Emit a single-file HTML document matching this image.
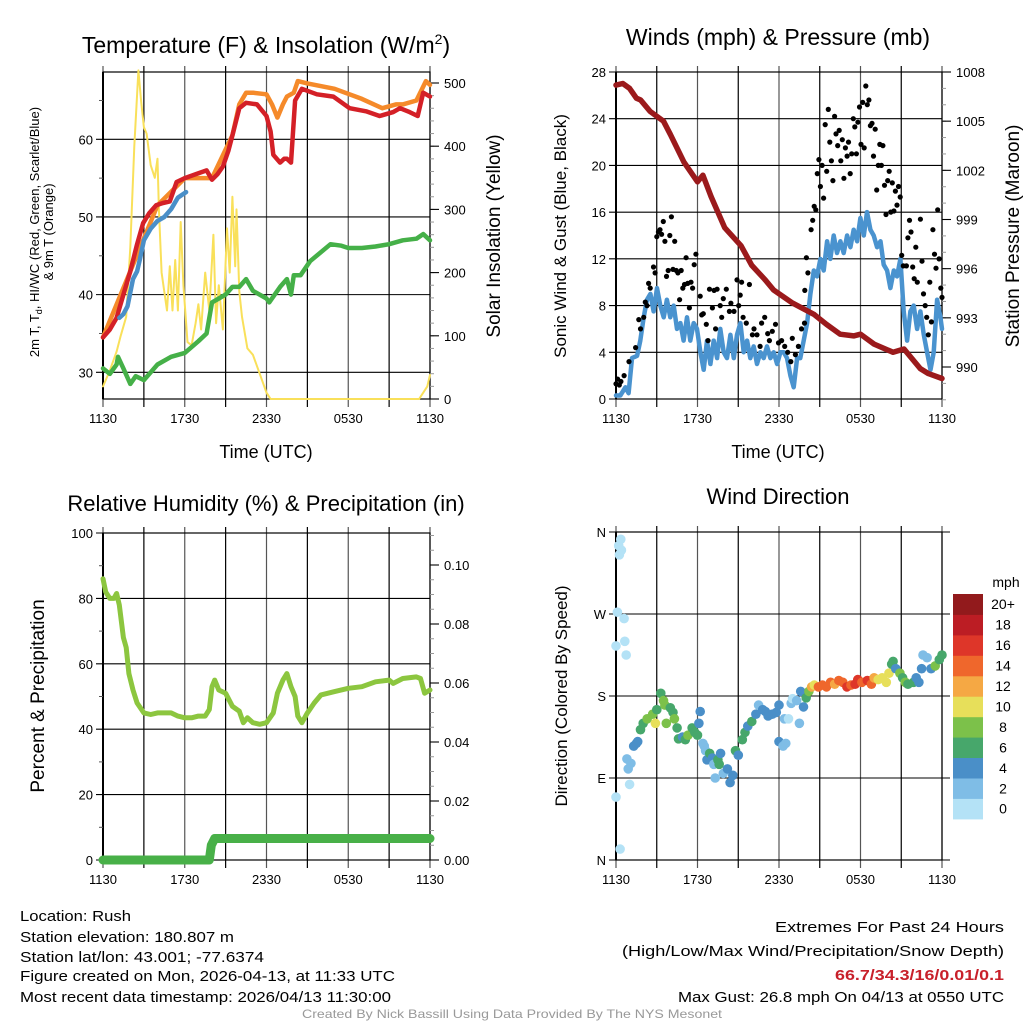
<!DOCTYPE html>
<html><head><meta charset="utf-8"><style>
html,body{margin:0;padding:0;background:#fff;}
svg{display:block;font-family:"Liberation Sans",sans-serif;}
</style></head><body>
<svg id="fig" width="1024" height="1024" viewBox="0 0 1024 1024" xmlns="http://www.w3.org/2000/svg">
<rect width="1024" height="1024" fill="#fff"/>
<g id="g1"></g>
<g id="g2"></g>
<g id="g3"></g>
<g id="g4"></g>
<g font-family="'Liberation Sans',sans-serif" font-size="15" fill="#000">
<text x="20" y="921" textLength="111" lengthAdjust="spacingAndGlyphs">Location: Rush</text>
<text x="20" y="942" textLength="214" lengthAdjust="spacingAndGlyphs">Station elevation: 180.807 m</text>
<text x="20" y="962" textLength="244" lengthAdjust="spacingAndGlyphs">Station lat/lon: 43.001; -77.6374</text>
<text x="20" y="981" textLength="375" lengthAdjust="spacingAndGlyphs">Figure created on Mon, 2026-04-13, at 11:33 UTC</text>
<text x="20" y="1002" textLength="371" lengthAdjust="spacingAndGlyphs">Most recent data timestamp: 2026/04/13 11:30:00</text>
<text x="1004" y="932" text-anchor="end" textLength="229" lengthAdjust="spacingAndGlyphs">Extremes For Past 24 Hours</text>
<text x="1004" y="956" text-anchor="end" textLength="382" lengthAdjust="spacingAndGlyphs">(High/Low/Max Wind/Precipitation/Snow Depth)</text>
<text x="1004" y="980" text-anchor="end" fill="#c8202a" font-weight="bold" textLength="169" lengthAdjust="spacingAndGlyphs">66.7/34.3/16/0.01/0.1</text>
<text x="1004" y="1002" text-anchor="end" textLength="326" lengthAdjust="spacingAndGlyphs">Max Gust: 26.8 mph On 04/13 at 0550 UTC</text>
<text x="512" y="1018" text-anchor="middle" font-size="12" fill="#999" textLength="420" lengthAdjust="spacingAndGlyphs">Created By Nick Bassill Using Data Provided By The NYS Mesonet</text>
</g>
</svg>
<script>
// ---------- data (hours since 1130 UTC) ----------
const timeLabels = ["1130","1730","2330","0530","1130"];
const tempT   = [0,0.5,1,1.5,2,2.5,2.94,3.4,3.9,4.4,4.9,5.4,6,6.8,7.6,8,8.4,8.8,9.2,9.5,10,10.5,11.3,12,12.3,12.5,13,13.3,13.5,13.8,14.1,14.6,15.7,16.9,18.1,19.3,20.3,21.3,21.8,22.5,23.1,23.5,24];
const tempRed = [34.5,35.5,37,40,43,46.5,49.2,50.5,51.5,51.8,52,54.5,55,55.5,56,54.8,55.5,56.5,58.5,60.5,64,64.7,64.5,63,61,58,57,57.5,57.5,57,65,66.5,65.8,65.5,64,63.6,63,63.5,64,63.5,63,66,65.5];
const orangeT = [0,2,4,6,8,9.5,10,10.5,11,12,12.4,12.8,13.2,13.5,14,14.3,15,17,19,20.5,21.5,22,23,23.7,24];
const tempOrange = [34.5,43,51.5,55,55,60.5,64.5,66,66,65.8,64.5,62.8,64.5,65.5,66,67.5,67.2,66.5,65.2,64,64.5,64.5,65,67.5,67];
const blueT = [1.2,1.5,1.8,2.2,2.5,2.7,3,3.5,4,4.5,5,5.5,6.1];
const tempBlue = [37,37.5,38.5,42,43,44.5,47,48.5,49.5,50,51,52.5,53.2];
const greenT = [0,0.5,1,1.1,1.5,2,2.4,3,3.5,4,5,6,7,7.6,8,8.5,9,9.5,10,10.5,11,12,12.2,13,13.5,13.8,14,14.5,15.2,16.7,17.5,18,19,20,21,22,23,23.5,24];
const tempGreen = [30.5,29.8,31,32,30.5,28.5,29.5,29,30,31,32,32.5,34,35,39,39.5,40,41,41,42,40.5,39.5,39,41,42,40,42.5,42.5,44.3,46.5,46.3,46,46,46.2,46.5,47,47.2,47.8,47];
const solarT = [0,0.5,1,1.3,1.7,2,2.3,2.6,2.8,3,3.2,3.5,3.8,4,4.1,4.3,4.5,4.7,4.9,5.1,5.3,5.5,5.7,5.9,6.2,6.5,6.8,7,7.2,7.5,7.8,8.1,8.3,8.5,8.8,9.1,9.3,9.5,9.7,9.8,10,10.2,10.6,11,11.5,12,12.3,23.2,23.5,23.8,24];
const solar = [20,45,75,100,130,240,400,520,470,430,420,370,350,380,300,200,170,140,210,140,220,140,280,180,90,85,120,150,110,200,140,260,120,180,110,270,200,320,210,300,170,130,80,70,40,10,0,0,10,20,38];
const windT = [0,0.32,0.69,0.93,1.18,1.55,1.79,
 2.04,2.28,2.53,2.77,3.02,3.26,3.51,3.75,4.0,4.25,4.49,4.74,4.98,5.23,5.47,5.72,5.96,6.21,6.46,6.7,6.95,7.19,7.44,7.68,7.93,8.17,8.42,8.67,8.91,9.16,9.4,9.65,9.89,10.14,10.38,10.63,10.87,11.12,11.37,11.61,11.86,12.1,12.35,12.59,12.84,13.08,13.33,13.57,13.82,14.07,14.31,14.56,14.8,15.05,15.29,15.54,15.78,16.03,16.27,16.52,16.76,17.01,17.26,17.5,17.75,17.99,18.24,18.48,18.73,18.97,19.22,19.47,19.71,19.96,20.2,20.45,20.69,20.94,21.18,21.43,21.67,21.92,22.17,22.41,22.66,22.9,23.15,23.39,23.64,23.88,24];
const windSpd = [0.3,0.3,1,0.5,3.5,3.7,5,
 7,8.5,9,7.5,9.5,8,7,8.5,7,8,6,6.5,5,7,5,6.5,6,4,2.5,5,3,5,3.5,6,4,3.5,5.5,3.5,5.5,6.5,4,5,3.5,4.5,3,4,3.5,4.5,3.5,4,3,4,4,3.5,2,1,3.5,3.5,5,6.5,9,11,10.5,12,11,13.5,12,14,12.5,13.5,12.5,14,13,14.5,13.5,15.5,14,16,14.5,14,13,13.5,11.5,11,9.5,11,10.5,12,7.5,5,7.5,8,6,7.5,5.5,4,2.5,4,8.5,7,6];
const gustT = [0,0.12,0.24,0.36,0.6,0.96,1.44,1.68,1.8,2.04,2.16,2.28,2.4,2.52,2.76,2.88,3,3.12,3.24,3.36,3.48,3.6,3.72,3.84,3.96,4.08,4.2,4.32,4.44,4.56,4.68,4.8,4.92,5.04,5.16,5.28,5.4,5.52,5.64,5.76,5.88,
 6.2,6.31,6.43,6.65,6.77,6.88,7.1,7.22,7.33,7.44,7.67,7.78,7.9,8.12,8.35,8.46,8.69,8.91,9.03,9.14,9.25,9.36,9.59,9.82,10.04,10.16,10.38,10.61,10.72,10.95,11.17,11.29,11.51,11.74,11.96,12.19,12.42,12.64,12.87,12.98,13.21,13.43,13.66,13.88,
 13.9,14.02,14.13,14.36,14.48,14.59,14.71,14.82,14.94,15.05,15.17,15.28,15.4,15.51,15.63,15.74,15.86,15.97,16.09,16.2,16.32,16.43,16.55,16.66,16.78,16.89,17.01,17.12,17.24,17.35,17.47,17.58,17.7,17.81,17.93,18.04,18.16,18.27,18.39,18.5,18.62,18.73,18.85,18.96,19.08,19.19,19.31,19.42,19.54,19.65,19.77,19.88,20,20.11,20.23,20.34,20.46,20.57,20.69,20.8,20.92,21.03,21.15,21.38,21.49,21.61,21.72,21.84,21.95,22.07,22.18,22.41,22.53,22.64,22.76,22.87,22.99,23.1,23.22,23.33,23.45,23.56,23.68,23.79,23.91,24];
const gustSpd = [1.3,1.7,1.2,1.5,2,3.2,4.4,6.8,6,7,8.3,8,9.9,9.5,11.3,10.8,13.9,14.3,14.5,14.1,15.2,13.5,10.5,11,14,15.6,11.1,13.5,11,10.8,8.5,11,9.5,9.8,12.1,9.9,7.8,10,9.5,11.5,12.4,
 8.8,7.2,7.3,6.4,5,9.4,7.8,9.3,6,9.4,8,7,8.6,9.4,7.5,8.2,7.5,10.2,8,8.9,10,7,6.5,9.8,5.5,6,5.5,4.5,6.5,7,5.6,5,5.8,6.4,4.8,5,4.5,4,3.2,5.2,3.8,4.5,6,6.5,
 9.3,12.1,10.8,14.5,15.3,16.5,16.2,19.3,20.5,18.2,20,17.2,23.5,19.5,24.8,22,20.4,18.7,24.2,22.7,21.7,23,20.4,22.2,18.9,21.5,20.8,22,19.3,21,24,23.3,21,23.7,25,21.8,25.4,21.5,26.8,25.2,25.6,23.4,23.6,20.8,23.1,17.9,20,21.8,20,21.7,18.3,15.8,18.7,19.5,16,18.5,16.1,17.8,16.6,18.2,17.3,12.3,11.4,11.4,13.8,15.3,14.3,11.3,10.3,13,10,15.4,11.8,9,8,7,5.5,10,6.6,14.5,12.4,11.2,16.2,12,9.5,8.7];
const presT = [0,0.5,1,1.5,1.8,2.5,3.5,4,5,6,6.4,7,8,9.2,10,11,11.6,13,14.6,15.5,16.5,17.5,18,19,20.4,21.2,22.4,23,24];
const pressure = [1007.2,1007.3,1007,1006.4,1006.3,1005.6,1005,1004.2,1002.5,1001.3,1001.7,1000.4,998.5,997.4,996.2,995.3,994.7,993.9,993.2,992.6,992,991.9,992,991.4,990.9,991.1,989.9,989.6,989.3];
const rhT = [0,0.2,0.5,0.8,1,1.2,1.5,1.7,1.9,2.2,2.5,3,3.5,4,4.5,5,5.5,6,6.5,7,7.5,7.8,8,8.2,8.5,9,9.5,10,10.3,10.6,11,11.5,12,12.5,12.8,13.2,13.5,13.8,14.1,14.3,14.6,15,15.5,16,17,18,19,20,21,21.3,22,23,23.3,23.6,24];
const rh = [86,82,80,80,81.5,78,68,65,57,52,48,45,44.5,45,45,45,44,43.5,43.5,44,44,46,53,55,52,51,47,45.5,42,43.5,42,41.5,42,45,51,55,57,53,50,44,42,45,48,50.5,51.5,52.5,53,54.5,55,54,55.5,56,55.5,51,52];
const precipT = [0,7.8,7.95,8.2,24];
const precip = [0,0,0.005,0.0073,0.0073];
const dirT = [0.35,0.2,0.4,0.25,0.1,0.6,0.65,0,0.75,0,0.3,0.8,0.9,1.0,1.1,1.3,1.5,1.6,1.8,2.0,2.3,2.7,2.9,3.0,3.3,3.5,3.6,3.7,4.0,4.2,4.3,4.5,4.6,4.9,5.1,5.3,5.6,5.8,6.0,6.1,6.2,6.4,6.5,6.6,6.7,6.9,7.1,7.2,7.3,7.5,7.6,7.7,7.9,8.2,8.4,8.6,8.8,9.0,9.3,9.5,9.7,10.0,10.3,10.5,10.8,11.0,11.2,11.5,11.8,12.0,12.0,12.3,12.4,12.5,12.7,12.9,13.0,13.3,13.5,13.6,13.8,14.0,14.2,14.4,14.6,14.9,15.2,15.5,15.8,16.1,16.4,16.7,17.0,17.3,17.6,17.8,18.1,18.5,18.8,19.0,19.3,19.6,19.9,20.1,20.3,20.4,20.6,20.9,21.1,21.3,21.5,21.9,22.1,22.3,22.5,22.6,22.9,23.2,23.5,23.8,24.0];
const dirDeg = [352,345,340,335,272,265,240,235,225,69,12,111,100,83,106,125,128,130,143,150,155,160,150,165,183,175,170,150,167,162,155,145,133,135,132,137,145,140,137,150,163,128,125,120,110,117,112,105,90,110,105,117,95,100,85,93,120,115,132,140,147,152,160,170,165,163,158,160,162,170,130,125,155,128,155,172,177,175,150,185,168,178,185,190,192,190,192,190,195,193,197,195,190,192,193,198,195,197,193,200,198,200,195,205,215,218,210,205,200,195,193,195,200,195,210,225,222,210,213,220,225];
const dirSpd = [0.5,0.5,0.5,0.5,0.5,0.5,0.5,0.5,0.5,0.5,0.5,3,3,1,3,4,4,4,6,6,8,8,10,6,6,8,8,8,6,6,8,6,6,4,6,8,6,6,6,4,4,2,2,2,4,6,4,2,2,6,6,4,2,4,4,4,6,4,6,6,4,6,4,2,4,4,4,4,4,4,4,2,2,2,1,2,1,2,2,4,4,6,8,12,10,14,15,15,14,12,14,14,16,15,16,17,15,16,14,13,10,10,10,11,6,6,5,8,6,8,6,6,4,4,4,2,2,4,8,6,6];
const speedBinLabels = ["0","2","4","6","8","10","12","14","16","18","20+"];
const speedColors = ["#b4e2f6","#7fbde6","#4a8fc8","#47a76b","#7cc14a","#e7df5a","#f5a844","#ef672c","#de3629","#bc1d24","#921a1c"];

// ---------- helpers ----------
const NS="http://www.w3.org/2000/svg";
function mk(parent,tag,attrs){const e=document.createElementNS(NS,tag);for(const k in attrs)e.setAttribute(k,attrs[k]);parent.appendChild(e);return e;}
function lin(d0,d1,r0,r1){return v=>r0+(v-d0)*(r1-r0)/(d1-d0);}
function pathD(xs,ys,sx,sy){return xs.map((t,i)=>(i?"L":"M")+sx(t).toFixed(1)+","+sy(ys[i]).toFixed(1)).join("");}
function txt(parent,x,y,s,size,anchor,extra){const e=mk(parent,"text",Object.assign({x:x,y:y,"font-size":size,"text-anchor":anchor||"middle",fill:"#000"},extra||{}));e.textContent=s;return e;}

function frame(g,L,R,T,B,sx){
  for(let h=0;h<=24;h+=3){
    const x=sx(h);
    const l=mk(g,"line",{x1:x,y1:T-6,x2:x,y2:B+8,stroke:(h%6===3)?"#000":"#555","stroke-width":1.2});
    
    
  }
  for(let i=0;i<timeLabels.length;i++){
    const t=txt(g,sx(i*6),B+24,timeLabels[i],13);
    
    
  }
  const r=mk(g,"rect",{x:L,y:T,width:R-L,height:B-T,fill:"none",stroke:"#000","stroke-width":1.2});
  
  
  mk(g,"line",{x1:L,y1:T,x2:L,y2:B,stroke:"#000","stroke-width":2});
}
function hgrid(g,L,R,y,label){
  const l=mk(g,"line",{x1:L-7,y1:y,x2:R,y2:y,stroke:"#000","stroke-width":1.1});
  
  
  if(label!==null){
    const t=txt(g,L-10,y+5,label,13,"end");
    
    
  }
}
function rightTicks(g,R,vals,sy,fmt,minorStep,lo,hi){
  for(let v=lo;v<=hi+1e-9;v+=minorStep){mk(g,"line",{x1:R,y1:sy(v),x2:R+4,y2:sy(v),stroke:"#999","stroke-width":1});}
  vals.forEach(v=>{
    mk(g,"line",{x1:R,y1:sy(v),x2:R+9,y2:sy(v),stroke:"#000","stroke-width":1.1});
    const t=txt(g,R+14,sy(v)+5,fmt(v),13,"start");
    
    
  });
}
function line(g,xs,ys,sx,sy,color,w,name){
  const p=mk(g,"path",{d:pathD(xs,ys,sx,sy),fill:"none",stroke:color,"stroke-width":w,"stroke-linejoin":"round","stroke-linecap":"round"});
  
  
  return p;
}
function vtitle(g,x,y,s,size,extra){
  return txt(g,0,0,s,size,"middle",Object.assign({transform:`translate(${x},${y}) rotate(-90)`},extra||{}));
}

// ---------- panel 1 ----------
(function(){
  const g=document.getElementById("g1");
  const L=103,R=430,T=72,B=399;
  const sx=lin(0,24,L,R), sy=lin(30,60,372.3,139.3), sy2=lin(0,500,399,83);
  const tt=txt(g,266,53,"Temperature (F) & Insolation (W/m",23);
  
  
  const sup=mk(tt,"tspan",{dy:-9,"font-size":14});sup.textContent="2";
  const sp2=mk(tt,"tspan",{dy:9});sp2.textContent=")";
  frame(g,L,R,T,B,sx);
  [30,40,50,60].forEach(v=>hgrid(g,L,R,sy(v),String(v)));
  [35,45,55,65].forEach(v=>mk(g,"line",{x1:L-4,y1:sy(v),x2:L,y2:sy(v),stroke:"#555"}));
  rightTicks(g,R,[0,100,200,300,400,500],sy2,v=>String(v),20,0,500);
  line(g,solarT,solar,sx,sy2,"#f9e05a",2,"solar-insolation-line");
  line(g,greenT,tempGreen,sx,sy,"#45b048",4.5,"dewpoint-line");
  line(g,orangeT,tempOrange,sx,sy,"#f58a2a",4.5,"9m-temperature-line");
  line(g,tempT,tempRed,sx,sy,"#d42027",4.5,"2m-temperature-line");
  line(g,blueT,tempBlue,sx,sy,"#4a8fc8",4.5,"heat-index-windchill-line");
  const a=vtitle(g,39,232,"2m T, T",13);
  
  
  const sub=mk(a,"tspan",{"font-size":9,dy:3});sub.textContent="d";
  const r2=mk(a,"tspan",{dy:-3});r2.textContent=", HI/WC (Red, Green, Scarlet/Blue)";
  const a2=vtitle(g,53,232,"& 9m T (Orange)",13);
  
  
  const b=vtitle(g,500,236,"Solar Insolation (Yellow)",19);
  
  
  const c=txt(g,266,458,"Time (UTC)",18);
  
  
})();

// ---------- panel 2 ----------
(function(){
  const g=document.getElementById("g2");
  const L=616,R=942,T=72,B=399;
  const sx=lin(0,24,L,R), sy=lin(0,28,B,T), sy2=lin(990,1008,367,72);
  const tt=txt(g,778,45,"Winds (mph) & Pressure (mb)",23);
  
  
  frame(g,L,R,T,B,sx);
  [0,4,8,12,16,20,24,28].forEach(v=>hgrid(g,L,R,sy(v),String(v)));
  rightTicks(g,R,[990,993,996,999,1002,1005,1008],sy2,v=>String(v),1,988,1008);
  line(g,windT,windSpd,sx,sy,"#4a93cf",4.5,"sonic-wind-line");
  gustT.forEach((t,i)=>{
    const c=mk(g,"circle",{cx:sx(t).toFixed(1),cy:sy(gustSpd[i]).toFixed(1),r:2.6,fill:"#000"});
    
    
  });
  line(g,presT,pressure,sx,sy2,"#9b1a1c",5.5,"station-pressure-line");
  const a=vtitle(g,566,236,"Sonic Wind & Gust (Blue, Black)",17);
  
  
  const b=vtitle(g,1019,236,"Station Pressure (Maroon)",19);
  
  
  const c=txt(g,778,458,"Time (UTC)",18);
  
  
})();

// ---------- panel 3 ----------
(function(){
  const g=document.getElementById("g3");
  const L=103,R=430,T=533,B=860;
  const sx=lin(0,24,L,R), sy=lin(0,100,B,T), sy2=lin(0,0.1,B,565);
  const tt=txt(g,266,511,"Relative Humidity (%) & Precipitation (in)",22);
  
  
  frame(g,L,R,T,B,sx);
  [0,20,40,60,80,100].forEach(v=>hgrid(g,L,R,sy(v),String(v)));
  [10,30,50,70,90].forEach(v=>mk(g,"line",{x1:L-4,y1:sy(v),x2:L,y2:sy(v),stroke:"#555"}));
  rightTicks(g,R,[0,0.02,0.04,0.06,0.08,0.1],sy2,v=>v.toFixed(2),0.005,0,0.11);
  line(g,rhT,rh,sx,sy,"#8cc63f",5,"relative-humidity-line");
  line(g,precipT,precip,sx,sy2,"#48b048",9,"precipitation-line");
  const a=vtitle(g,44,696,"Percent & Precipitation",19);
  
  
})();

// ---------- panel 4 ----------
(function(){
  const g=document.getElementById("g4");
  const L=616,R=942,T=532,B=860;
  const sx=lin(0,24,L,R), sy=lin(0,360,B,T);
  const tt=txt(g,778,504,"Wind Direction",22);
  
  
  frame(g,L,R,T,B,sx);
  const dl=["N","E","S","W","N"];
  dl.forEach((s,i)=>hgrid(g,L,R+8,sy(i*90),s));
  dirT.forEach((t,i)=>{
    const bin=Math.min(10,Math.floor(dirSpd[i]/2));
    const c=mk(g,"circle",{cx:sx(t).toFixed(1),cy:sy(dirDeg[i]).toFixed(1),r:4.8,fill:speedColors[bin]});
    
    
  });
  const a=vtitle(g,567,696,"Direction (Colored By Speed)",17);
  
  
  const cb=mk(g,"g",{});
  
  
  const top=594,h=20.45;
  speedColors.forEach((col,i)=>{
    const y=top+(10-i)*h;
    const r=mk(cb,"rect",{x:953,y:y.toFixed(1),width:30,height:(h+0.5).toFixed(1),fill:col});
    
    
    const t=txt(cb,1003,y+h/2+5,speedBinLabels[i],14);
    
    
  });
  const m=txt(cb,1006,587,"mph",14);
  
  
})();
</script>
</body></html>
